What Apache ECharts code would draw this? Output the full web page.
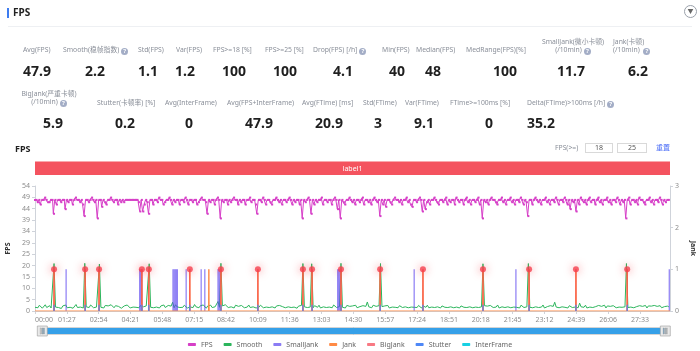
<!DOCTYPE html>
<html>
<head>
<meta charset="utf-8">
<script src="https://cdn.jsdelivr.net/npm/echarts@6/dist/echarts.min.js"></script>
<style>
body{margin:0;width:700px;height:351px;overflow:hidden;background:#fff;position:relative;font-family:"Noto Sans","Noto Sans CJK SC",sans-serif}
#chart{position:absolute;left:0;top:0;width:700px;height:351px}
.a{position:absolute;white-space:nowrap;z-index:2}
.t{color:#8a8f99;font-size:6.8px;line-height:8px}
.v{color:#1f1f1f;font-size:14px;font-weight:bold;line-height:16px}
.q{display:inline-block;width:7px;height:7px;border-radius:50%;background:#a3adc6;color:#fff;font-size:6px;line-height:7px;text-align:center;margin-left:2px;vertical-align:-1px;font-weight:bold}
.c{text-align:center}
</style>
</head>
<body>
<div class="a" style="left:7px;top:8px;width:2px;height:10px;background:#3d7cf0"></div>
<div class="a" style="left:13px;top:6px;font-size:10px;font-weight:bold;color:#222;line-height:13px">FPS</div>
<div class="a" style="left:684px;top:5px;width:11px;height:11px;border:1px solid #9aa0aa;border-radius:50%;font-size:6px;line-height:11px;text-align:center;color:#666">▼</div>
<div class="a" style="left:8px;top:26px;width:684px;height:1px;background:#eef0f3"></div>

<div class="a t" style="left:23px;top:46px">Avg(FPS)</div>
<div class="a t" style="left:63px;top:46px">Smooth(稳帧指数)<span class="q">?</span></div>
<div class="a t" style="left:138px;top:46px">Std(FPS)</div>
<div class="a t" style="left:176px;top:46px">Var(FPS)</div>
<div class="a t" style="left:213px;top:46px">FPS&gt;=18 [%]</div>
<div class="a t" style="left:265px;top:46px">FPS&gt;=25 [%]</div>
<div class="a t" style="left:313px;top:46px">Drop(FPS) [/h]<span class="q">?</span></div>
<div class="a t" style="left:382px;top:46px">Min(FPS)</div>
<div class="a t" style="left:416px;top:46px">Median(FPS)</div>
<div class="a t" style="left:466px;top:46px">MedRange(FPS)[%]</div>
<div class="a t c" style="left:538px;top:38px;width:70px">SmallJank(微小卡顿)<br>(/10min)<span class="q">?</span></div>
<div class="a t" style="left:613px;top:38px">Jank(卡顿)<br>(/10min) <span class="q">?</span></div>

<div class="a v" style="left:23px;top:63px">47.9</div>
<div class="a v" style="left:85px;top:63px">2.2</div>
<div class="a v" style="left:138px;top:63px">1.1</div>
<div class="a v" style="left:175px;top:63px">1.2</div>
<div class="a v" style="left:222px;top:63px">100</div>
<div class="a v" style="left:273px;top:63px">100</div>
<div class="a v" style="left:333px;top:63px">4.1</div>
<div class="a v" style="left:389px;top:63px">40</div>
<div class="a v" style="left:425px;top:63px">48</div>
<div class="a v" style="left:493px;top:63px">100</div>
<div class="a v" style="left:557px;top:63px">11.7</div>
<div class="a v" style="left:628px;top:63px">6.2</div>

<div class="a t c" style="left:19px;top:90px;width:60px">BigJank(严重卡顿)<br>(/10min)<span class="q">?</span></div>
<div class="a t" style="left:97px;top:99px">Stutter(卡顿率) [%]</div>
<div class="a t" style="left:165px;top:99px">Avg(InterFrame)</div>
<div class="a t" style="left:227px;top:99px">Avg(FPS+InterFrame)</div>
<div class="a t" style="left:302px;top:99px">Avg(FTime) [ms]</div>
<div class="a t" style="left:363px;top:99px">Std(FTime)</div>
<div class="a t" style="left:405px;top:99px">Var(FTime)</div>
<div class="a t" style="left:450px;top:99px">FTime&gt;=100ms [%]</div>
<div class="a t" style="left:527px;top:99px">Delta(FTime)&gt;100ms [/h]<span class="q">?</span></div>

<div class="a v" style="left:43px;top:115px">5.9</div>
<div class="a v" style="left:115px;top:115px">0.2</div>
<div class="a v" style="left:185px;top:115px">0</div>
<div class="a v" style="left:245px;top:115px">47.9</div>
<div class="a v" style="left:315px;top:115px">20.9</div>
<div class="a v" style="left:374px;top:115px">3</div>
<div class="a v" style="left:414px;top:115px">9.1</div>
<div class="a v" style="left:485px;top:115px">0</div>
<div class="a v" style="left:527px;top:115px">35.2</div>

<div class="a" style="left:15px;top:143px;font-size:9px;font-weight:bold;color:#222;line-height:12px">FPS</div>
<div class="a t" style="left:555px;top:144px">FPS(&gt;=)</div>
<div class="a" style="left:585px;top:143px;width:26px;height:8px;border:1px solid #d9d9d9;font-size:7px;line-height:8px;text-align:center;color:#555">18</div>
<div class="a" style="left:617px;top:143px;width:28px;height:8px;border:1px solid #d9d9d9;font-size:7px;line-height:8px;text-align:center;color:#555">25</div>
<div class="a" style="left:656px;top:143px;font-size:7px;line-height:9px;color:#4a6cf7">重置</div>

<div id="chart"></div>
<script>
// x range in seconds, fps/smooth sampled every 4 s
const xMax = 1735;
const step = 4;
const xInterval = 87;

const fps = [
  48,48,47,48,46,48,48,49,48,47,47,48,48,42,48,46,48,48,47,48,
  48,44,48,47,48,48,46,48,49,48,48,47,48,46,41,48,48,47,48,49,
  48,47,48,40,48,48,45,48,47,46,48,48,49,48,47,48,48,46,48,47,
  48,47,48,48,48,48,48,48,48,48,48,47,43,48,43,46,48,47,42,48,
  48,46,48,48,47,49,48,48,46,47,48,48,49,48,46,48,47,48,48,46,
  48,48,47,49,48,46,48,48,47,48,48,46,47,48,49,48,48,47,42,48,
  47,48,48,46,48,49,48,40,48,47,48,48,46,48,47,48,49,48,48,46,
  48,47,48,48,46,48,48,49,47,48,48,46,42,48,48,47,49,48,46,48,
  48,47,46,48,48,49,48,47,48,46,48,48,47,48,49,48,46,48,47,48,
  48,46,48,40,48,47,48,49,48,42,48,46,48,47,48,48,49,46,48,48,
  47,48,48,46,48,49,48,44,48,40,48,47,46,48,48,49,48,47,48,46,
  48,48,47,48,49,46,48,48,47,48,46,48,49,48,47,48,41,48,46,48,
  45,48,48,47,46,48,49,48,48,47,48,46,48,48,49,47,48,46,45,48,
  48,47,48,49,48,43,48,44,47,48,46,48,48,49,48,47,46,48,48,47,
  48,49,46,48,47,48,48,46,49,48,47,48,48,46,48,49,47,48,46,48,
  48,47,48,49,46,48,40,48,47,48,46,48,49,48,48,47,46,48,48,49,
  47,48,46,48,48,49,47,48,46,48,48,47,49,48,46,48,47,41,48,48,
  46,48,49,48,47,48,46,48,48,49,47,48,46,48,48,47,49,48,46,48,
  48,47,49,48,46,48,44,48,47,48,43,48,46,49,48,47,48,46,48,49,
  47,48,48,46,48,49,47,48,46,48,48,49,47,48,46,48,48,47,49,48,
  46,48,47,48,40,48,49,46,48,48,47,48,46,49,48,48,47,46,48,48,
  49,47,48,46,48,48,47,49,48,46,48,47,48,48
];

const smooth = [
  1.6,2.2,1.4,2.5,1.8,1.2,2.0,2.7,1.5,1.9,2.3,1.3,2.1,20.5,1.7,2.4,1.5,2.0,1.1,2.2,
  1.8,2.6,1.4,2.0,1.6,2.3,1.2,1.9,2.8,1.5,2.1,1.7,2.4,1.3,20.6,1.8,2.2,1.5,2.6,1.9,
  1.4,2.1,1.7,2.5,20.3,1.6,2.0,1.3,2.4,1.8,2.2,1.5,2.7,1.9,1.4,2.3,1.6,2.0,2.5,1.2,
  1.8,2.2,1.5,2.6,1.9,1.3,2.1,1.7,2.4,1.6,2.0,1.4,2.3,2.8,1.8,1.5,2.2,1.9,20.4,1.6,
  2.3,1.4,2.0,1.7,2.5,1.3,2.2,1.8,2.6,1.5,1.9,2.4,1.6,2.1,3.8,1.4,2.7,1.8,2.0,1.5,
  2.2,1.6,2.5,1.9,1.3,2.1,1.7,2.4,1.5,2.8,1.8,2.0,1.4,2.3,1.6,2.6,1.9,1.2,2.2,1.7,
  2.5,1.5,2.0,1.8,2.4,4.1,1.6,20.6,2.2,1.4,2.7,1.9,1.5,2.3,1.8,2.1,1.3,2.5,1.7,2.0,
  1.6,2.4,1.9,1.4,2.2,1.7,2.6,1.5,2.0,1.8,2.3,1.3,2.1,1.6,2.5,1.9,1.4,2.2,1.7,2.4,
  1.5,2.0,1.8,2.6,1.3,2.2,1.7,2.4,1.6,1.9,2.3,1.4,2.1,1.8,2.5,1.5,2.0,1.7,2.3,1.2,
  2.1,1.6,2.4,20.5,1.8,2.2,1.5,2.0,1.7,20.4,1.4,2.3,1.9,1.6,2.5,1.3,2.1,1.8,2.4,1.5,
  2.0,1.7,2.2,1.4,2.6,1.8,1.5,2.3,1.9,20.6,1.6,2.1,1.3,2.4,1.8,2.0,1.5,2.2,1.7,2.5,
  1.4,2.1,1.9,1.6,2.3,1.5,2.0,3.9,1.8,2.2,1.4,2.5,1.7,2.0,1.6,2.3,20.5,1.9,1.5,2.2,
  1.8,2.4,1.3,2.0,1.7,2.5,1.6,2.1,1.4,2.3,1.9,1.5,2.2,1.8,2.6,1.4,2.0,1.7,2.3,1.6,
  2.1,1.5,2.4,1.8,1.3,2.2,1.9,1.6,2.5,1.4,2.0,1.7,2.3,1.5,2.1,1.8,2.6,1.3,2.2,1.9,
  1.6,2.3,1.5,2.0,1.8,2.4,1.4,2.1,1.7,2.5,1.3,2.2,1.9,1.6,2.3,1.5,2.0,1.8,2.4,1.4,
  2.2,1.7,2.5,1.5,2.0,1.8,20.4,2.3,1.6,2.1,1.4,2.4,1.9,1.5,2.2,1.7,2.6,1.3,2.0,1.8,
  2.3,1.5,2.1,1.8,2.5,1.4,2.0,1.7,2.4,1.6,2.2,1.3,2.5,1.9,1.5,2.1,1.8,20.5,1.6,2.3,
  1.4,2.0,1.8,2.4,1.5,2.2,1.7,2.6,1.3,2.1,1.9,1.6,2.3,1.5,2.0,3.8,1.7,2.4,1.4,2.2,
  1.8,2.5,1.6,2.0,1.3,2.3,1.9,1.5,2.2,1.7,2.4,1.4,3.4,1.8,2.1,1.6,2.5,1.3,2.0,1.7,
  2.3,1.5,2.1,1.9,1.4,2.4,1.7,2.0,1.6,2.5,1.3,2.2,1.8,2.0,1.5,2.3,1.9,1.4,2.1,1.7,
  2.4,1.6,2.0,1.8,20.5,1.5,2.2,1.7,2.5,1.4,2.1,1.9,1.6,2.3,1.5,2.0,1.8,2.4,1.3,2.2,
  1.7,2.1,1.5,2.4,1.8,2.0,1.6,2.3,1.4,2.2,1.9,1.5,2.1,1.8
];

// event times in seconds
const bigJankT = [52,137,175,292,311,423,508,609,732,757,836,943,1060,1224,1350,1478,1618];
const jankT = [52,137,175,292,311,423,475,508,609,732,757,836,943,1060,1224,1350,1478,1618];
const smallJankT = [85,286,289,292,377,380,383,386,389,413,454,464,
  500,503,506,827,830,833,835,1036,1314,1733];
const stutter = [[52,0.15],[137,0.15],[175,0.15],[292,0.15],[311,0.15],[423,0.15],[508,0.15],
  [609,0.15],[732,0.15],[757,0.15],[836,0.15],[943,0.15],[1060,0.15],[1224,0.15],[1350,0.15],
  [1478,0.15],[1618,0.15]];
const interFrame = [[0,0],[xMax,0]];

const leftMax = 54;
const rightMax = 3;

const pad = n => String(n).padStart(2, '0');
const mmss = v => pad(Math.floor(v / 60)) + ':' + pad(Math.round(v % 60));

const fpsData = fps.map((v, i) => [i * step, v]);
const smoothData = smooth.map((v, i) => [i * step, v]);
const jankLine = [[0, 0]];
jankT.forEach(t => { jankLine.push([t - 1, 0], [t, 1], [t + 1, 0]); });
jankLine.push([xMax, 0]);

const chart = echarts.init(document.getElementById('chart'));
const axisGray = '#cfd3da';
const labelGray = '#8c8c8c';

chart.setOption({
  animation: false,
  textStyle: { fontFamily: 'Noto Sans' },
  grid: { left: 35, right: 30, top: 186, bottom: 40, outerBoundsMode: 'none' },
  legend: {
    top: 336,
    left: 'center',
    icon: 'roundRect',
    itemWidth: 8,
    itemHeight: 3,
    itemGap: 11,
    textStyle: { fontSize: 7, color: '#666' },
    data: ['FPS', 'Smooth', 'SmallJank', 'Jank', 'BigJank', 'Stutter', 'InterFrame']
  },
  graphic: [
    { type: 'rect', shape: { x: 35, y: 161.5, width: 635, height: 13.5 }, style: { fill: '#f4535f' } },
    { type: 'text', style: { x: 352.5, y: 168.5, text: 'label1', fill: '#fff', font: '7px Noto Sans', align: 'center', verticalAlign: 'middle' } }
  ],
  xAxis: {
    type: 'value',
    min: 0,
    max: xMax,
    interval: xInterval,
    splitLine: { show: false },
    axisLine: { show: true, lineStyle: { color: axisGray } },
    axisTick: { show: true, length: 3, lineStyle: { color: axisGray } },
    axisLabel: {
      fontSize: 7, color: labelGray, margin: 5,
      alignMinLabel: 'left', showMaxLabel: false,
      formatter: v => mmss(v)
    }
  },
  yAxis: [
    {
      type: 'value', min: 0, max: leftMax, interval: leftMax / 11,
      name: 'FPS', nameLocation: 'middle', nameGap: 21,
      nameTextStyle: { fontSize: 7, fontWeight: 'bold', color: '#333' },
      splitLine: { show: false },
      axisLine: { show: true, lineStyle: { color: axisGray } },
      axisTick: { show: true, length: 3, lineStyle: { color: axisGray } },
      axisLabel: { fontSize: 7, color: labelGray, margin: 5, formatter: v => Math.round(v) }
    },
    {
      type: 'value', min: 0, max: rightMax, interval: 1, position: 'right',
      name: 'Jank', nameLocation: 'middle', nameGap: 16, nameRotate: -90,
      nameTextStyle: { fontSize: 7, fontWeight: 'bold', color: '#333' },
      splitLine: { show: false },
      axisLine: { show: true, lineStyle: { color: axisGray } },
      axisTick: { show: true, length: 3, lineStyle: { color: axisGray } },
      axisLabel: { fontSize: 7, color: labelGray, margin: 5 }
    }
  ],
  dataZoom: [{
    type: 'slider', xAxisIndex: 0, filterMode: 'none',
    left: 40, right: 35, top: 327, height: 8,
    showDetail: false, showDataShadow: false, brushSelect: false, moveHandleSize: 0,
    backgroundColor: '#f2f2f2', borderColor: '#d4d4d4',
    fillerColor: '#36a0e8',
    handleIcon: 'path://M0,0H10V10H0Z M3,2V8H3.8V2Z M4.6,2V8H5.4V2Z M6.2,2V8H7V2Z',
    handleSize: '125%',
    handleStyle: { color: '#e9e9e9', borderColor: '#9a9a9a', borderWidth: 0.6 }
  }],
  series: [
    {
      name: 'FPS', type: 'line', data: fpsData, yAxisIndex: 0, step: 'middle',
      color: '#d63fc7', symbol: 'rect', symbolSize: 2, showSymbol: true,
      lineStyle: { width: 1 }, z: 3
    },
    {
      name: 'Smooth', type: 'line', data: smoothData, yAxisIndex: 0,
      color: '#2cb55c', showSymbol: false, lineStyle: { width: 1 }, z: 2
    },
    {
      name: 'SmallJank', type: 'bar', data: smallJankT.map(t => [t, 1]), yAxisIndex: 1,
      color: '#5a45f0', barWidth: 1.2, barGap: '-100%', itemStyle: { opacity: 0.7 }, z: 4
    },
    {
      name: 'Jank', type: 'line', data: jankLine, yAxisIndex: 1,
      color: '#ff8a45', showSymbol: false, lineStyle: { width: 1 }, z: 4
    },
    {
      name: 'BigJank', type: 'bar', data: bigJankT.map(t => [t, 1]), yAxisIndex: 1,
      color: '#f5404f', barWidth: 1.2, barGap: '-100%', itemStyle: { opacity: 0.7 }, z: 5
    },
    {
      name: 'BigJank', type: 'scatter', data: bigJankT.map(t => [t, 1]), yAxisIndex: 1,
      color: '#f5404f', symbolSize: 6,
      itemStyle: { shadowBlur: 9, shadowColor: 'rgba(245,50,60,0.8)' }, z: 6
    },
    {
      name: 'Stutter', type: 'bar', data: stutter, yAxisIndex: 1,
      color: '#4e88f7', barWidth: 1.2, barGap: '-100%', z: 6
    },
    {
      name: 'InterFrame', type: 'line', data: interFrame, yAxisIndex: 1,
      color: '#17d0e3', showSymbol: false, lineStyle: { width: 1, opacity: 0 }, z: 1
    }
  ]
});
</script>
</body>
</html>
